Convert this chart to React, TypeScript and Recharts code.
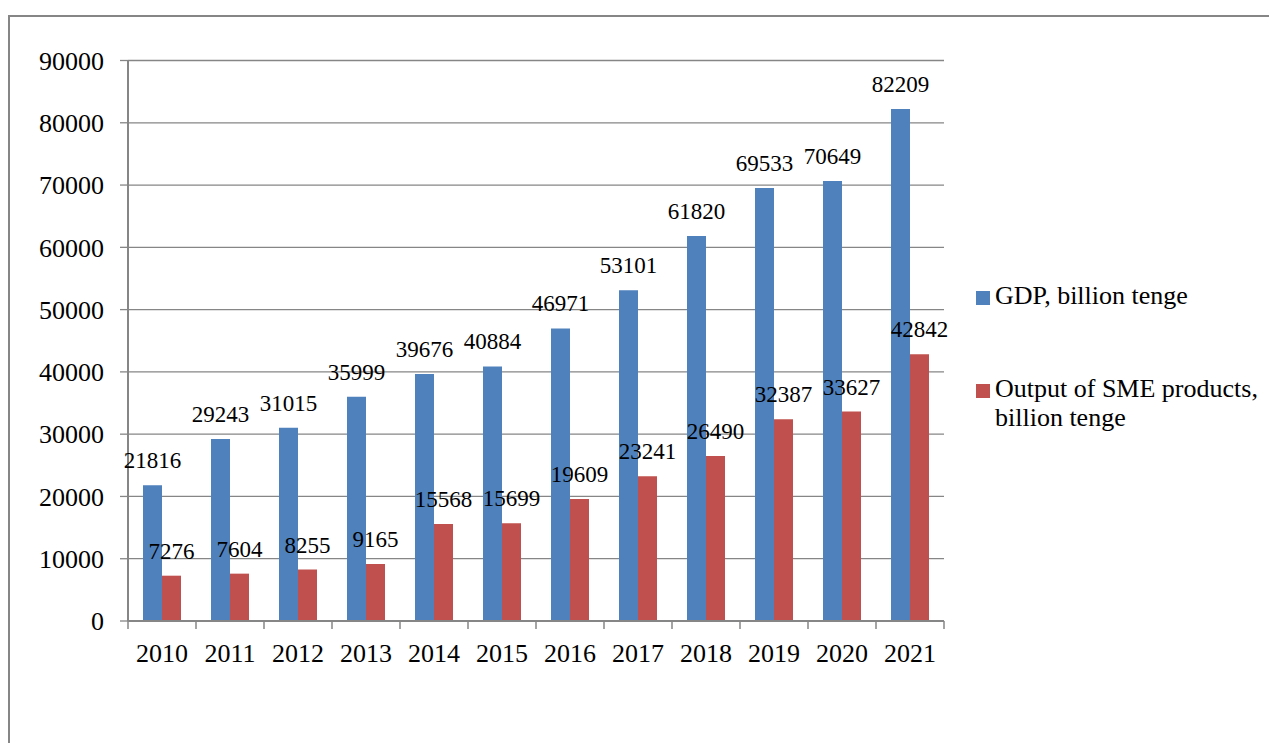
import React from "react"
import { Bar, BarChart, CartesianGrid, LabelList, Legend, XAxis, YAxis } from "recharts"

const years = ["2010", "2011", "2012", "2013", "2014", "2015", "2016", "2017", "2018", "2019", "2020", "2021"]
const gdp = [21816, 29243, 31015, 35999, 39676, 40884, 46971, 53101, 61820, 69533, 70649, 82209]
const sme = [7276, 7604, 8255, 9165, 15568, 15699, 19609, 23241, 26490, 32387, 33627, 42842]
const yTicks = [0, 10000, 20000, 30000, 40000, 50000, 60000, 70000, 80000, 90000]
const gdpName = "GDP, billion tenge"
const smeName = "Output of SME products, billion tenge"

const data = years.map((year, i) => ({ year, gdp: gdp[i], sme: sme[i] }))

const FONT = '"Liberation Serif", "Times New Roman", serif'
const AXIS = "#868686"

function YearTick(props: any) {
  const { x, y, payload, index, visibleTicksCount } = props
  const half = payload?.offset || 34
  return (
    <g>
      <line x1={x - half} y1={y} x2={x - half} y2={y + 8} stroke={AXIS} strokeWidth={1.5} />
      {index === visibleTicksCount - 1 && (
        <line x1={x + half} y1={y} x2={x + half} y2={y + 8} stroke={AXIS} strokeWidth={1.5} />
      )}
      <text x={x} y={y + 41} textAnchor="middle" fontSize={26} fontFamily={FONT} fill="#000">
        {payload.value}
      </text>
    </g>
  )
}

function LegendBox(props: any) {
  const items = props.payload || []
  return (
    <div style={{ fontFamily: FONT, fontSize: 26, lineHeight: "29px", color: "#000" }}>
      {items.map((it: any, i: number) => (
        <div key={i} style={{ display: "flex", alignItems: "flex-start", marginTop: i === 0 ? 0 : 64 }}>
          <span style={{ width: 14, height: 14, background: it.color, marginTop: 10, marginRight: 5, flexShrink: 0 }} />
          <span style={{ width: 285 }}>{it.value}</span>
        </div>
      ))}
    </div>
  )
}

export default function App() {
  return (
    <div
      style={{
        position: "relative",
        top: 7,
        width: 1269,
        height: 735,
        boxSizing: "border-box",
        borderLeft: `2px solid ${AXIS}`,
        borderTop: `2px solid ${AXIS}`,
        overflow: "hidden",
        background: "#fff",
      }}
    >
      <BarChart
        width={1267}
        height={733}
        data={data}
        margin={{ top: 43.5, right: 333, left: 0, bottom: 89 }}
        barGap={0}
        barSize={19}
      >
        <CartesianGrid vertical={false} stroke={AXIS} strokeWidth={1.3} />
        <XAxis
          dataKey="year"
          height={40}
          axisLine={{ stroke: AXIS, strokeWidth: 2 }}
          tickLine={false}
          tickSize={0}
          tickMargin={0}
          tick={<YearTick />}
          interval={0}
        />
        <YAxis
          width={118}
          domain={[0, 90000]}
          ticks={yTicks}
          interval={0}
          axisLine={{ stroke: AXIS, strokeWidth: 2 }}
          tickLine={{ stroke: AXIS, strokeWidth: 1.3 }}
          tickSize={8}
          tickMargin={16}
          tick={{ fontSize: 26, fontFamily: FONT, fill: "#000" }}
        />
        <Legend
          layout="vertical"
          align="center"
          verticalAlign="middle"
          content={<LegendBox />}
          wrapperStyle={{ left: 966, top: 264, width: 300 }}
        />
        <Bar dataKey="gdp" name={gdpName} fill="#4F81BD" isAnimationActive={false}>
          <LabelList dataKey="gdp" position="top" offset={17} fontSize={23} fontFamily={FONT} fill="#000" />
        </Bar>
        <Bar dataKey="sme" name={smeName} fill="#C0504D" isAnimationActive={false}>
          <LabelList dataKey="sme" position="top" offset={17} fontSize={23} fontFamily={FONT} fill="#000" />
        </Bar>
      </BarChart>
    </div>
  )
}
